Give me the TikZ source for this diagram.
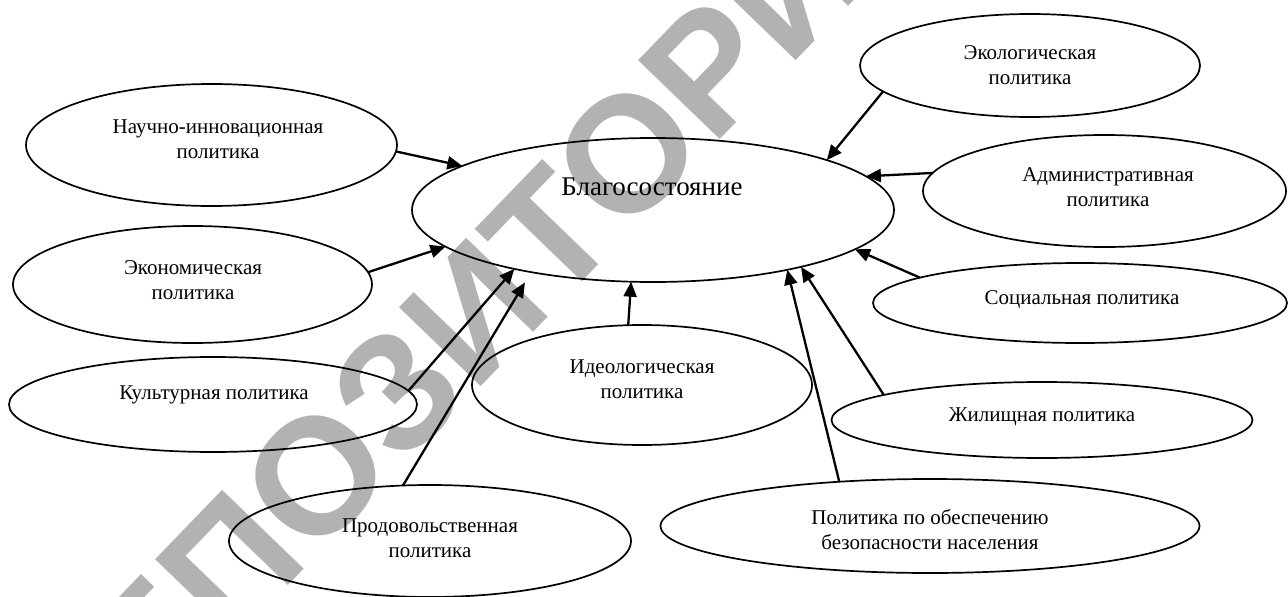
\documentclass[tikz,border=0pt]{standalone}
\usepackage{fontspec}
\setmainfont{Liberation Serif}
\newfontfamily\wmfont{Liberation Sans}
\usetikzlibrary{shapes.geometric,arrows.meta}
\tikzset{
  oval/.style={ellipse, draw=black, line width=1.7pt, inner sep=0pt, outer sep=0pt},
  lbl/.style={align=center, inner sep=0pt, font=\fontsize{21}{25}\selectfont},
  biglbl/.style={align=center, inner sep=0pt, font=\fontsize{27}{31}\selectfont},
  arr/.style={line width=2.3pt, -{Triangle[length=15pt,width=13pt]}},
  wm/.style={text=black!30, inner sep=0pt, font=\wmfont\bfseries\fontsize{165}{165}\selectfont}
}
\begin{document}
\begin{tikzpicture}[x=1pt,y=-1pt]
\useasboundingbox (0,0) rectangle (1288,597);
% watermark
\node[wm, rotate=46] (wmark) at (462,300) {РЕПОЗИТОРИЙ};
% ellipses
\node[oval, minimum width=482pt, minimum height=144pt] (central) at (653,210) {};
\node[oval, minimum width=371pt, minimum height=122pt] (nauch) at (211.5,145) {};
\node[oval, minimum width=359pt, minimum height=117pt] (econ) at (192.5,284.5) {};
\node[oval, minimum width=408pt, minimum height=95pt] (kult) at (213,404.5) {};
\node[oval, minimum width=402pt, minimum height=112pt] (prod) at (430,541) {};
\node[oval, minimum width=340pt, minimum height=120pt] (ideo) at (642,385) {};
\node[oval, minimum width=340pt, minimum height=103pt] (ekol) at (1030,65.5) {};
\node[oval, minimum width=363pt, minimum height=112pt] (adm) at (1104.5,191) {};
\node[oval, minimum width=414pt, minimum height=80pt] (soc) at (1080,303) {};
\node[oval, minimum width=421pt, minimum height=76pt] (zhil) at (1042,420) {};
\node[oval, minimum width=539pt, minimum height=94pt] (bez) at (930,526) {};
% labels
\node[biglbl] (central-t) at (652,187) {Благосостояние};
\node[lbl] (nauch-t) at (218,139.5) {Научно-инновационная\\политика};
\node[lbl] (econ-t) at (193,280.5) {Экономическая\\политика};
\node[lbl] (kult-t) at (214,395) {Культурная политика};
\node[lbl] (prod-t) at (430,538.5) {Продовольственная\\политика};
\node[lbl] (ideo-t) at (642,379.5) {Идеологическая\\политика};
\node[lbl] (ekol-t) at (1030,65.5) {Экологическая\\политика};
\node[lbl] (adm-t) at (1108,187.5) {Административная\\политика};
\node[lbl] (soc-t) at (1082,300) {Социальная политика};
\node[lbl] (zhil-t) at (1042,417) {Жилищная политика};
\node[lbl] (bez-t) at (930,529.5) {Политика по обеспечению\\безопасности населения};
% arrows
\draw[arr] (nauch.358.5) -- (central.167);
\draw[arr] (econ.4) -- (central.190.5);
\draw[arr] (kult.4.2) -- (central.203.4);
\draw[arr, shorten >=12pt] (prod.116.2) -- (central.207.3);
\draw[arr] (ideo.103.1) -- (central.253.7);
\draw[arr] (ekol.190.6) -- (central.16.5);
\draw[arr] (adm.174.6) -- (central.9.9);
\draw[arr] (soc.171.7) -- (central.349.4);
\draw[arr] (zhil.171.1) -- (central.339.6);
\draw[arr] (bez.154.9) -- (central.336);
\end{tikzpicture}
\end{document}
